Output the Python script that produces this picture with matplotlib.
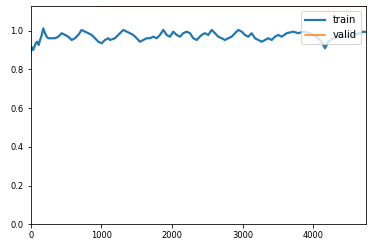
import matplotlib
matplotlib.use("Agg")
from matplotlib import pyplot as plt

# train loss (iteration, value)
train_iters = [0, 14, 33, 57, 75, 93, 113, 132, 150, 178, 202, 226, 249, 297, 344,
               391, 439, 486, 532, 580, 627, 674, 722, 769, 815, 863, 910, 957,
               1005, 1052, 1098, 1122, 1193, 1264, 1311, 1359, 1406, 1452, 1500,
               1547, 1594, 1642, 1689, 1735, 1784, 1830, 1877, 1925, 1972, 2018,
               2067, 2113, 2160, 2208, 2255, 2302, 2350, 2372, 2420, 2467, 2514,
               2562, 2609, 2655, 2704, 2750, 2797, 2845, 2892, 2939, 2987, 3033,
               3080, 3128, 3175, 3222, 3270, 3317, 3363, 3411, 3458, 3505, 3553,
               3624, 3717, 3788, 3859, 3953, 4048, 4119, 4166, 4213, 4283, 4378,
               4473, 4566, 4661, 4708, 4742]
train_loss = [0.890, 0.916, 0.900, 0.921, 0.937, 0.943, 0.926, 0.952, 0.969, 1.012,
              0.987, 0.969, 0.961, 0.961, 0.961, 0.969, 0.987, 0.978, 0.969, 0.952,
              0.961, 0.978, 1.004, 0.995, 0.987, 0.978, 0.961, 0.943, 0.935, 0.952,
              0.961, 0.952, 0.961, 0.987, 1.004, 0.995, 0.987, 0.978, 0.961, 0.943,
              0.952, 0.961, 0.961, 0.969, 0.961, 0.978, 1.004, 0.978, 0.969, 0.995,
              0.978, 0.969, 0.987, 0.995, 0.987, 0.961, 0.952, 0.961, 0.978, 0.987,
              0.978, 1.004, 0.987, 0.969, 0.961, 0.952, 0.961, 0.969, 0.987, 1.004,
              0.995, 0.978, 0.969, 0.987, 0.961, 0.952, 0.943, 0.952, 0.961, 0.952,
              0.969, 0.978, 0.969, 0.987, 0.995, 0.987, 0.995, 0.987, 0.969, 0.943,
              0.909, 0.943, 0.961, 0.969, 0.969, 0.978, 0.987, 0.995, 0.993]

# valid loss, one point per epoch
valid_iters = [948, 1896, 2844, 3792, 4740]
valid_loss = [1.126, 1.126, 1.126, 1.126, 1.126]

fig = plt.figure(figsize=(372 / 72, 248 / 72), dpi=72)
ax = fig.add_axes([0.0825, 0.0956, 0.9005, 0.879])

ax.plot(train_iters, train_loss, label="train", linewidth=2.2)
ax.plot(valid_iters, valid_loss, label="valid")
ax.legend(loc="upper right")
ax.tick_params(labelsize="small")

ax.set_xlim(0, max(train_iters))
ax.set_ylim(0, max(max(train_loss), max(valid_loss)))

plt.savefig("out.png", dpi=72)
